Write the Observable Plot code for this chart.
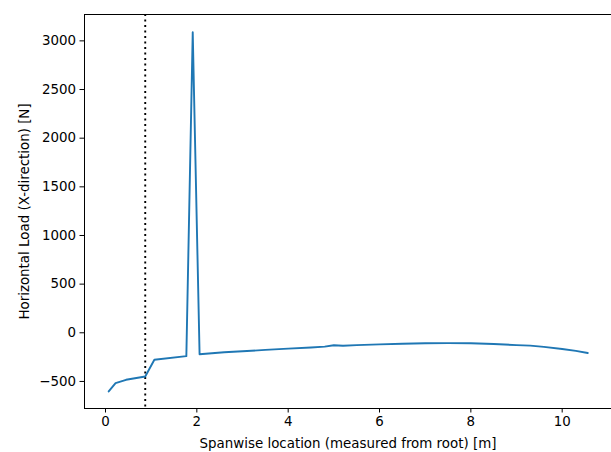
<!DOCTYPE html>
<html>
<head>
<meta charset="utf-8">
<script src="https://cdn.jsdelivr.net/npm/d3@7"></script>
<script src="https://cdn.jsdelivr.net/npm/@observablehq/plot@0.6"></script>
<style>
  html, body { margin: 0; padding: 0; background: #fff; }
  #chart svg { display: block; }
</style>
</head>
<body>
<div id="chart"></div>
<script>
// Spanwise stations [m]
const span = [0.07, 0.22, 0.45, 0.87, 1.07, 1.77, 1.91, 2.06, 2.6, 3.0, 3.5, 4.0, 4.5, 4.8, 5.0, 5.2, 5.5, 6.0, 6.5, 7.0, 7.5, 8.0, 8.5, 9.0, 9.3, 9.6, 10.0, 10.3, 10.56];
// Horizontal load [N]
const load = [-603, -518, -483, -449, -277, -240, 3089, -220, -200, -190, -176, -163, -151, -142, -128, -133, -127, -119, -113, -108, -106, -108, -115, -127, -132, -145, -166, -186, -208];
// Root marker location [m]
const rootMarker = [0.87];
const xTicks = [0, 2, 4, 6, 8, 10];
const yTicks = [-500, 0, 500, 1000, 1500, 2000, 2500, 3000];

const data = span.map((s, i) => ({span: s, load: load[i]}));
const fmt = d => (d < 0 ? "\u2212" + Math.abs(d) : String(d));

const chart = Plot.plot({
  width: 611,
  height: 452,
  marginLeft: 84,
  marginRight: 0,
  marginTop: 14,
  marginBottom: 44,
  style: {fontFamily: "DejaVu Sans", fontSize: "13.4px", color: "#000", background: "#fff"},
  x: {domain: [-0.46, 11.08]},
  y: {domain: [-778, 3271]},
  marks: [
    Plot.ruleX(rootMarker, {stroke: "#000", strokeWidth: 1.9, strokeDasharray: "2,3.5"}),
    Plot.line(data, {x: "span", y: "load", stroke: "#1f77b4", strokeWidth: 1.9}),
    Plot.frame({stroke: "#000", strokeWidth: 1}),
    Plot.axisX(xTicks, {tickSize: 4.5, tickPadding: 3, tickFormat: fmt, label: "Spanwise location (measured from root) [m]", labelAnchor: "center", labelOffset: 39, labelArrow: "none", stroke: "#000"}),
    Plot.axisY(yTicks, {tickSize: 4.5, tickPadding: 4, tickFormat: fmt, label: "Horizontal Load (X-direction) [N]", labelAnchor: "center", labelOffset: 65, labelArrow: "none", stroke: "#000"})
  ]
});
document.getElementById("chart").appendChild(chart);
</script>
</body>
</html>
